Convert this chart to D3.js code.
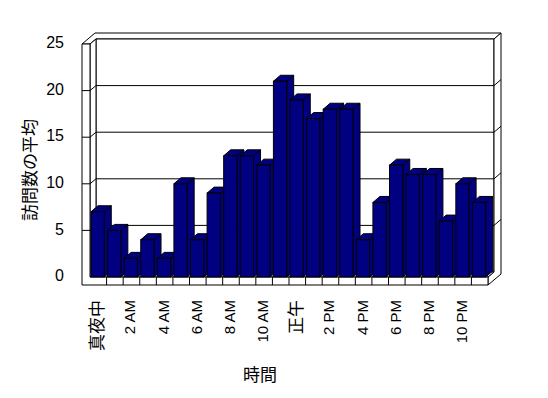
<!DOCTYPE html>
<html lang="ja">
<head>
    <meta charset="UTF-8">
    <title>時間別の平均訪問数</title>
    <script src="https://d3js.org/d3.v7.min.js"></script>
    <style>
        body {
            margin: 0;
            padding: 0;
            background-color: #ffffff;
        }
        svg text {
            font-family: "Liberation Sans", "Noto Sans CJK JP", sans-serif;
            fill: #000000;
        }
        .wall {
            fill: #ffffff;
            stroke: #000000;
            stroke-width: 1;
        }
        .bar {
            fill: #000080;
            stroke: #000000;
            stroke-width: 1;
        }
    </style>
</head>
<body>
    <div id="chart"></div>

    <script>
        // 24 hourly categories, only every other one gets a label
        const hours = d3.range(24);
        const hourLabels = ["真夜中", "2 AM", "4 AM", "6 AM", "8 AM", "10 AM",
                            "正午", "2 PM", "4 PM", "6 PM", "8 PM", "10 PM"];
        const visits = [7, 5, 2, 4, 2, 10, 4, 9, 13, 13, 12, 21,
                        19, 17, 18, 18, 4, 8, 12, 11, 11, 6, 10, 8];
        const yTicks = [0, 5, 10, 15, 20, 25];

        const width = 548;
        const height = 398;

        // front plane of the plot, depth offsets for the fake 3D look
        const plotL = 90, plotR = 488, plotT = 44, plotB = 277;
        const wallT = 8;            // left wall and floor thickness
        const dx = 6, dy = -5;      // plot depth (front -> back wall face)
        const bx = 7, by = -6;      // back wall thickness
        const barDx = 7, barDy = -6;

        const x = d3.scaleBand()
            .domain(hours)
            .range([plotL, plotR])
            .padding(0);

        const y = d3.scaleLinear()
            .domain([0, 25])
            .range([plotB, plotT]);

        const svg = d3.select("#chart")
            .append("svg")
            .attr("width", width)
            .attr("height", height)
            .style("display", "block");

        const line = d3.line();
        const poly = pts => line(pts) + "Z";

        const backL = plotL + dx, backR = plotR + dx;
        const backTop = plotT + dy, backBase = plotB + dy;

        // top of left wall + back wall
        svg.append("path").attr("class", "wall")
            .attr("d", poly([[plotL - wallT, plotT], [plotL, plotT], [backL, backTop],
                [backR, backTop], [backR + bx, backTop + by],
                [plotL - wallT + dx + bx, plotT + dy + by]]));

        // back wall face
        svg.append("path").attr("class", "wall")
            .attr("d", poly([[backL, backTop], [backR, backTop], [backR, backBase], [backL, backBase]]));

        // right edge of back wall and floor
        svg.append("path").attr("class", "wall")
            .attr("d", poly([[backR, backTop], [backR + bx, backTop + by],
                [backR + bx, plotB + wallT + dy + by], [plotR, plotB + wallT],
                [plotR, plotB], [backR, backBase]]));

        // inner face of the left wall
        svg.append("path").attr("class", "wall")
            .attr("d", poly([[plotL, plotT], [backL, backTop], [backL, backBase], [plotL, plotB]]));

        // floor top
        svg.append("path").attr("class", "wall")
            .attr("d", poly([[plotL, plotB], [plotR, plotB], [backR, backBase], [backL, backBase]]));

        // front faces of left wall and floor (L shape)
        svg.append("path").attr("class", "wall")
            .attr("d", poly([[plotL - wallT, plotT], [plotL, plotT], [plotL, plotB], [plotR, plotB],
                [plotR, plotB + wallT], [plotL - wallT, plotB + wallT]]));

        // category ticks on the floor front
        svg.append("g")
            .selectAll("line")
            .data(hours.slice(1))
            .join("line")
            .attr("x1", d => x(d)).attr("x2", d => x(d))
            .attr("y1", plotB).attr("y2", plotB + wallT)
            .attr("stroke", "#000");

        // gridlines running across the walls
        const grid = svg.append("g");
        yTicks.filter(v => v > 0 && v < 25).forEach(v => {
            const yy = y(v);
            grid.append("path")
                .attr("fill", "none")
                .attr("stroke", "#000")
                .attr("d", line([[plotL - wallT, yy], [plotL, yy], [backL, yy + dy],
                    [backR, yy + dy], [backR + bx, yy + dy + by]]));
        });

        // bars, drawn left to right so later fronts cover earlier sides
        const bw = x.bandwidth() * 0.8;
        const bars = svg.append("g")
            .selectAll("g")
            .data(visits)
            .join("g");

        bars.append("path").attr("class", "bar")
            .attr("d", (d, i) => {
                const x0 = x(hours[i]) + 1, x1 = x0 + bw, yt = y(d);
                return poly([[x1, yt], [x1 + barDx, yt + barDy], [x1 + barDx, plotB + barDy], [x1, plotB]]);
            });
        bars.append("path").attr("class", "bar")
            .attr("d", (d, i) => {
                const x0 = x(hours[i]) + 1, x1 = x0 + bw, yt = y(d);
                return poly([[x0, yt], [x0 + barDx, yt + barDy], [x1 + barDx, yt + barDy], [x1, yt]]);
            });
        bars.append("rect").attr("class", "bar")
            .attr("x", (d, i) => x(hours[i]) + 1)
            .attr("y", d => y(d))
            .attr("width", bw)
            .attr("height", d => plotB - y(d));

        // y tick labels
        svg.append("g")
            .selectAll("text")
            .data(yTicks)
            .join("text")
            .attr("x", 64)
            .attr("y", d => y(d))
            .attr("text-anchor", "end")
            .attr("dominant-baseline", "middle")
            .attr("font-size", 16)
            .text(d => d);

        // x tick labels, rotated, every second hour
        const isCJK = s => /[^\x00-\x7f]/.test(s);
        svg.append("g")
            .selectAll("text")
            .data(hourLabels)
            .join("text")
            .attr("transform", (d, i) => `translate(${x(hours[i * 2]) + x.bandwidth() / 2},300) rotate(-90)`)
            .attr("text-anchor", "end")
            .attr("dominant-baseline", "middle")
            .attr("font-size", d => isCJK(d) ? 17 : 15)
            .style("fill", "#000")
            .text(d => d);

        svg.append("text")
            .attr("transform", "translate(32,170) rotate(-90)")
            .attr("text-anchor", "middle")
            .attr("dominant-baseline", "middle")
            .attr("font-size", 17)
            .text("訪問数の平均");

        svg.append("text")
            .attr("x", 260)
            .attr("y", 377)
            .attr("text-anchor", "middle")
            .attr("dominant-baseline", "middle")
            .attr("font-size", 17)
            .text("時間");
    </script>
</body>
</html>
